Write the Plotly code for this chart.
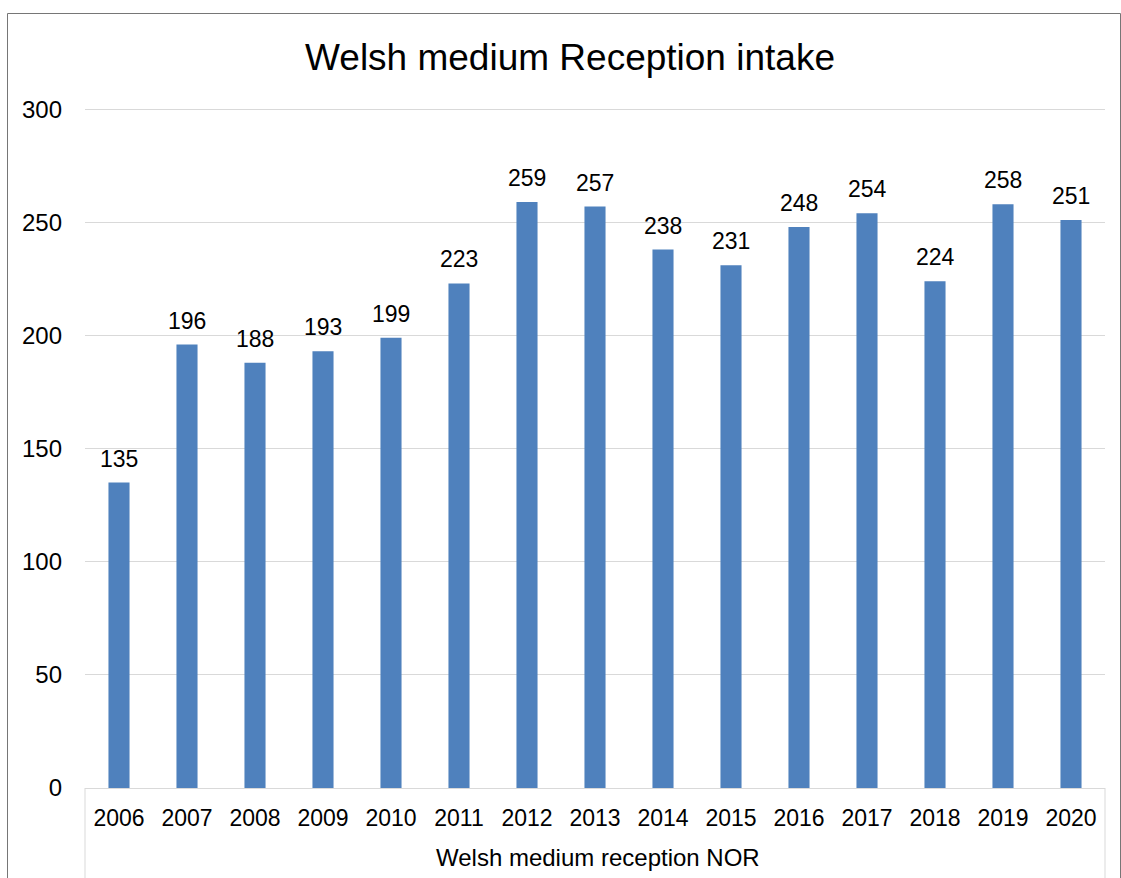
import plotly.graph_objects as go

years = ["2006", "2007", "2008", "2009", "2010", "2011", "2012", "2013",
         "2014", "2015", "2016", "2017", "2018", "2019", "2020"]
values = [135, 196, 188, 193, 199, 223, 259, 257, 238, 231, 248, 254, 224, 258, 251]
group_label = "Welsh medium reception NOR"
title_text = "Welsh medium Reception intake"

W, H = 1121, 878
L, R, T, B = 85, 16, 107, 90
pw, ph = W - L - R, H - T - B

def px_x(px):
    return (px - L) / pw

def px_y(py):
    return (H - B - py) / ph

FONT = "Liberation Sans, Arial"

fig = go.Figure()
fig.add_trace(go.Bar(
    x=years,
    y=values,
    marker=dict(color="#4F81BD", line=dict(width=0)),
    hoverinfo="x+y",
))

# data labels: category index positions on the category axis
label_annotations = [
    dict(x=i, y=v, xref="x", yref="y", text=str(v), showarrow=False,
         xanchor="center", yanchor="bottom", yshift=9,
         font=dict(size=23, color="black", family=FONT))
    for i, v in enumerate(values)
]

fig.update_layout(
    width=W, height=H,
    margin=dict(l=L, r=R, t=T, b=B),
    paper_bgcolor="white", plot_bgcolor="white",
    font=dict(family=FONT, size=24, color="black"),
    title=dict(text=title_text, x=570 / W, xanchor="center",
               y=1 - 57 / H, yanchor="middle",
               font=dict(size=37, color="black")),
    bargap=0.69,
    showlegend=False,
    shapes=[
        dict(type="rect", xref="paper", yref="paper",
             x0=px_x(7.5), x1=px_x(1120.5), y0=px_y(920), y1=px_y(13.5),
             line=dict(color="#767676", width=1), fillcolor="rgba(0,0,0,0)",
             layer="below"),
        dict(type="line", xref="paper", yref="paper",
             x0=0, x1=0, y0=0, y1=px_y(900),
             line=dict(color="#d9d9d9", width=1)),
        dict(type="line", xref="paper", yref="paper",
             x0=1, x1=1, y0=0, y1=px_y(900),
             line=dict(color="#d9d9d9", width=1)),
    ],
    annotations=label_annotations + [
        dict(text=group_label, xref="paper", yref="paper",
             x=px_x(598), y=px_y(858), xanchor="center", yanchor="middle",
             showarrow=False, font=dict(size=24, color="black", family=FONT)),
    ],
)
fig.update_xaxes(
    type="category",
    categoryorder="array", categoryarray=years,
    range=[-0.5, len(years) - 0.5],
    showline=True, linecolor="#d9d9d9", linewidth=1,
    ticks="", showgrid=False,
    ticklabelstandoff=9,
    tickfont=dict(size=23, color="black"),
)
fig.update_yaxes(
    range=[0, 301], tickvals=[0, 50, 100, 150, 200, 250, 300],
    showgrid=True, gridcolor="#d9d9d9", gridwidth=1,
    zeroline=False, showline=False, ticks="",
    ticklabelstandoff=22,
    tickfont=dict(size=24, color="black"),
)

fig.write_html("out.html", config={"displayModeBar": False},
               post_script="document.body.style.margin='0';")
